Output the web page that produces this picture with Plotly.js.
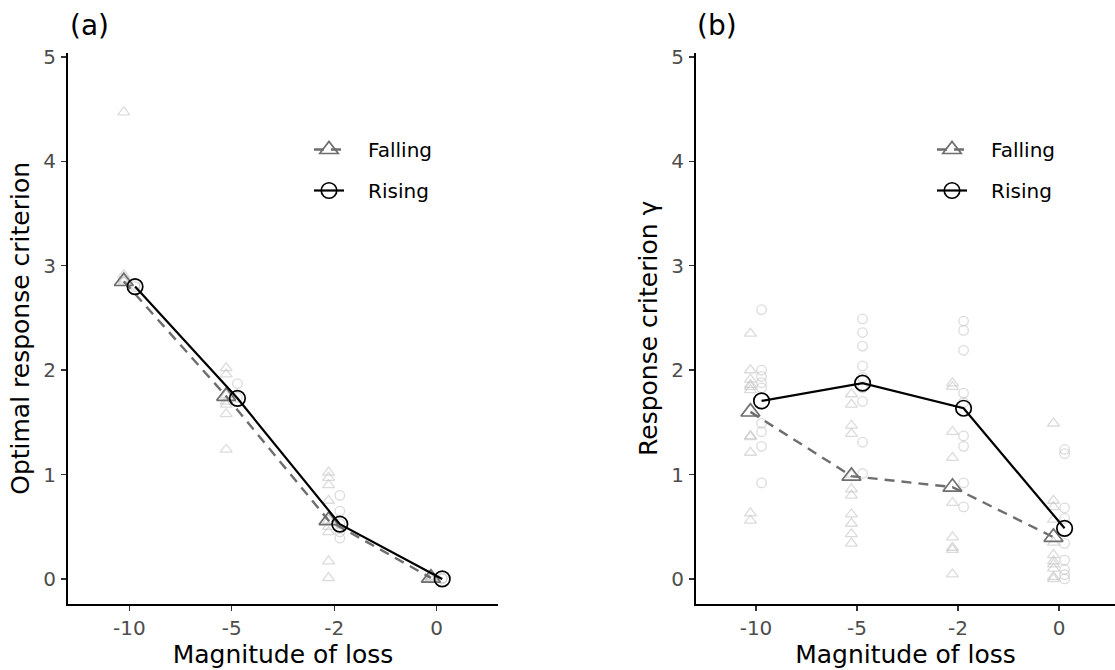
<!DOCTYPE html>
<html>
<head>
<meta charset="utf-8">
<script src="https://cdn.plot.ly/plotly-3.0.1.min.js"></script>
<style>html,body{margin:0;padding:0;background:#fff;}#chart{width:1115px;height:670px;}</style>
</head>
<body>
<div id="chart"></div>
<script>
// ---- data ----
var categories = ['-10', '-5', '-2', '0'];

// Panel (a): optimal response criterion
var fallA_ind = [
  [4.47, 2.91, 2.87, 2.85],
  [2.02, 1.96, 1.76, 1.70, 1.67, 1.58, 1.24],
  [1.02, 0.97, 0.90, 0.75, 0.56, 0.50, 0.45, 0.17, 0.01],
  [0.00, 0.01, 0.02]
];
var riseA_ind = [
  [2.80, 2.82],
  [1.87, 1.74],
  [0.80, 0.65, 0.53, 0.45, 0.39],
  [0.00, 0.01]
];
var fallA_mean = [2.85, 1.75, 0.56, 0.01];
var riseA_mean = [2.80, 1.73, 0.525, 0.00];

// Panel (b): response criterion gamma
var fallB_ind = [
  [2.35, 2.00, 1.91, 1.86, 1.84, 1.81, 1.37, 1.36, 1.21, 0.63, 0.56],
  [1.77, 1.67, 1.47, 1.39, 1.00, 0.86, 0.80, 0.62, 0.53, 0.43, 0.34],
  [1.875, 1.84, 1.41, 1.16, 0.73, 0.40, 0.30, 0.28, 0.045],
  [1.49, 0.75, 0.69, 0.57, 0.35, 0.23, 0.17, 0.14, 0.10, 0.02, 0.00]
];
var riseB_ind = [
  [2.58, 2.00, 1.94, 1.88, 1.83, 1.49, 1.41, 1.27, 0.92],
  [2.49, 2.36, 2.23, 2.04, 1.93, 1.83, 1.70, 1.31, 1.01],
  [2.47, 2.38, 2.19, 1.78, 1.69, 1.37, 1.27, 0.92, 0.69],
  [1.24, 1.20, 0.68, 0.58, 0.34, 0.18, 0.09, 0.04, 0.00]
];
var fallB_mean = [1.60, 0.985, 0.88, 0.40];
var riseB_mean = [1.705, 1.875, 1.635, 0.485];

var yTicks = [0, 1, 2, 3, 4, 5];

// ---- helpers ----
var DODGE = 0.055;
var FONT = 'DejaVu Sans, Noto Sans, sans-serif';
var catIdx = categories.map(function (c, i) { return i; });

function flatten(groups, offset) {
  var xs = [], ys = [];
  groups.forEach(function (vals, i) {
    vals.forEach(function (v) { xs.push(catIdx[i] + offset); ys.push(v); });
  });
  return {x: xs, y: ys};
}

var faintColor = 'rgba(190,190,190,0.55)';
var fallColor = '#6e6e6e';
var riseColor = '#000000';

function panelTraces(fInd, rInd, fMean, rMean, xa, ya, legendName) {
  var f = flatten(fInd, -DODGE), r = flatten(rInd, DODGE);
  return [
    {x: f.x, y: f.y, xaxis: xa, yaxis: ya, type: 'scatter', mode: 'markers', showlegend: false, hoverinfo: 'y',
     marker: {symbol: 'triangle-up-open', size: 10.5, color: faintColor, line: {width: 1.3, color: faintColor}}},
    {x: r.x, y: r.y, xaxis: xa, yaxis: ya, type: 'scatter', mode: 'markers', showlegend: false, hoverinfo: 'y',
     marker: {symbol: 'circle-open', size: 9.5, color: faintColor, line: {width: 1.3, color: faintColor}}},
    {x: catIdx.map(function (i) { return i - DODGE; }), y: fMean, xaxis: xa, yaxis: ya, type: 'scatter', mode: 'lines+markers',
     name: '\u00a0\u00a0\u00a0Falling', legend: legendName, legendgroup: legendName + 'f',
     line: {color: fallColor, width: 2.4, dash: '10px,7px'},
     marker: {symbol: 'triangle-up-open', size: 16.5, color: fallColor, line: {width: 1.7, color: fallColor}}},
    {x: catIdx.map(function (i) { return i + DODGE; }), y: rMean, xaxis: xa, yaxis: ya, type: 'scatter', mode: 'lines+markers',
     name: '\u00a0\u00a0\u00a0Rising', legend: legendName, legendgroup: legendName + 'r',
     line: {color: riseColor, width: 2.2},
     marker: {symbol: 'circle-open', size: 15.5, color: riseColor, line: {width: 1.7, color: riseColor}}}
  ];
}

var data = [].concat(
  panelTraces(fallA_ind, riseA_ind, fallA_mean, riseA_mean, 'x', 'y', 'legend'),
  panelTraces(fallB_ind, riseB_ind, fallB_mean, riseB_mean, 'x2', 'y2', 'legend2')
);

var W = 1115, H = 670;
function px(v) { return v / W; }
function py(v) { return 1 - v / H; }

function xAxis(domain, range) {
  return {
    domain: domain, range: range, tickmode: 'array', tickvals: catIdx, ticktext: categories,
    showline: true, linecolor: '#000', linewidth: 2, ticks: 'outside', ticklen: 5, tickwidth: 1.3, tickcolor: '#333',
    showgrid: false, zeroline: false, fixedrange: true,
    tickfont: {family: FONT, size: 20, color: '#4d4d4d'},
    title: {text: 'Magnitude of loss', font: {family: FONT, size: 25, color: '#000'}, standoff: 3}
  };
}
function yAxis(anchor, title) {
  return {
    anchor: anchor, domain: [py(604), py(52.7)], range: [-0.24, 5.04], tickmode: 'array', tickvals: yTicks,
    showline: true, linecolor: '#000', linewidth: 2, ticks: 'outside', ticklen: 5, tickwidth: 1.3, tickcolor: '#333',
    showgrid: false, zeroline: false, fixedrange: true, ticklabelstandoff: 1,
    tickfont: {family: FONT, size: 20, color: '#4d4d4d'},
    title: {text: title, font: {family: FONT, size: 25, color: '#000'}, standoff: 7}
  };
}

var legendStyle = function (xpx) {
  return {x: px(xpx), y: py(130), xanchor: 'left', yanchor: 'top', bgcolor: 'rgba(0,0,0,0)',
          font: {family: FONT, size: 20, color: '#000'}, tracegroupgap: 12, traceorder: 'grouped'};
};

var layout = {
  width: W, height: H,
  margin: {l: 0, r: 0, t: 0, b: 0},
  paper_bgcolor: '#fff', plot_bgcolor: '#fff',
  showlegend: true,
  xaxis: Object.assign(xAxis([px(68), px(498)], [-0.6, 3.6]), {anchor: 'y'}),
  yaxis: yAxis('x', 'Optimal response criterion'),
  xaxis2: Object.assign(xAxis([px(696), 1], [-0.594, 3.554]), {anchor: 'y2'}),
  yaxis2: yAxis('x2', 'Response criterion \u03b3'),
  legend: legendStyle(309),
  legend2: legendStyle(932),
  annotations: [
    {text: '(a)', xref: 'paper', yref: 'paper', x: px(68), y: py(26), xanchor: 'left', yanchor: 'middle',
     showarrow: false, font: {family: FONT, size: 28, color: '#000'}},
    {text: '(b)', xref: 'paper', yref: 'paper', x: px(695), y: py(26), xanchor: 'left', yanchor: 'middle',
     showarrow: false, font: {family: FONT, size: 28, color: '#000'}}
  ]
};

Plotly.newPlot('chart', data, layout, {displayModeBar: false, staticPlot: true});
</script>
</body>
</html>
